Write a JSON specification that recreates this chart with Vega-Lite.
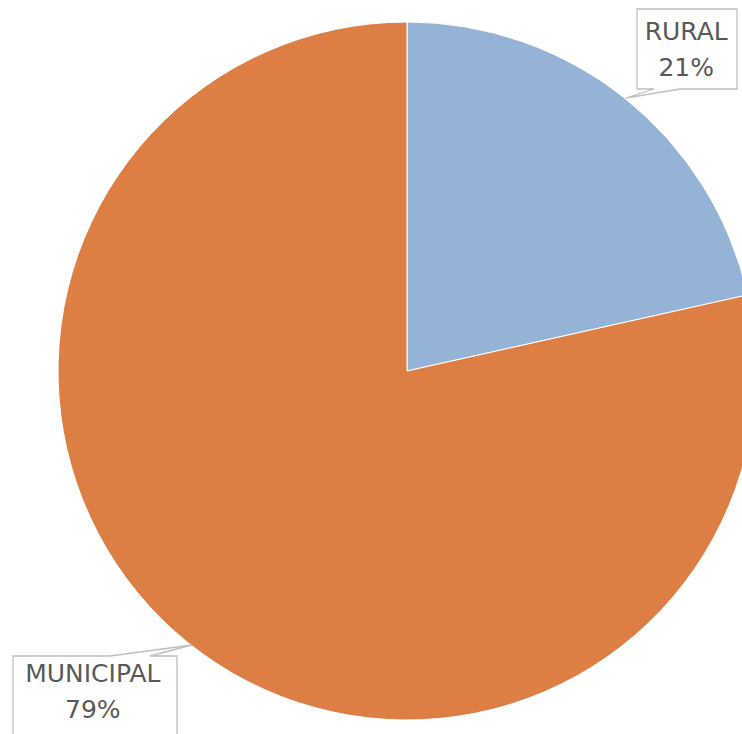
{
  "$schema": "https://vega.github.io/schema/vega-lite/v6.json",
  "width": 670,
  "height": 726,
  "autosize": "none",
  "padding": {"left": 72, "top": 8, "right": 0, "bottom": 0},
  "background": "white",
  "config": {"view": {"stroke": null}},
  "data": {
    "values": [
      {"category": "RURAL", "value": 21.5, "rank": 1, "label": "RURAL\n21%"},
      {"category": "MUNICIPAL", "value": 78.5, "rank": 2, "label": "MUNICIPAL\n79%"}
    ]
  },
  "transform": [
    {"stack": "value", "groupby": [], "sort": [{"field": "rank", "order": "ascending"}], "as": ["v0", "v1"]},
    {"calculate": "(datum.v0 + datum.v1) / 2", "as": "vmid"}
  ],
  "layer": [
    {
      "mark": {"type": "arc", "outerRadius": 349, "stroke": "white", "strokeWidth": 1},
      "encoding": {
        "theta": {"field": "v0", "type": "quantitative", "scale": {"domain": [0, 100]}},
        "theta2": {"field": "v1"},
        "color": {
          "field": "category",
          "type": "nominal",
          "scale": {"domain": ["RURAL", "MUNICIPAL"], "range": ["#95B3D7", "#DD7F45"]},
          "legend": null
        }
      }
    },
    {
      "transform": [{"filter": "datum.category === 'RURAL'"}],
      "mark": {"type": "point", "shape": "M219,-273L247,-282H230V-362H330V-282H273Z", "size": 4, "filled": true, "fill": "white", "stroke": "#BFBFBF", "strokeWidth": 1.3, "opacity": 1}
    },
    {
      "transform": [{"filter": "datum.category === 'MUNICIPAL'"}],
      "mark": {"type": "point", "shape": "M-215,274L-257,285H-230V365H-394V285H-297Z", "size": 4, "filled": true, "fill": "white", "stroke": "#BFBFBF", "strokeWidth": 1.3, "opacity": 1}
    },
    {
      "transform": [{"filter": "datum.category === 'RURAL'"}],
      "mark": {"type": "text", "radius": 349, "dx": 61, "dy": -67, "align": "center", "baseline": "middle", "lineBreak": "\n", "lineHeight": 36, "font": "DejaVu Sans", "fontSize": 25, "fill": "#595959"},
      "encoding": {
        "theta": {"field": "vmid", "type": "quantitative", "scale": {"domain": [0, 100]}},
        "text": {"field": "label"}
      }
    },
    {
      "transform": [{"filter": "datum.category === 'MUNICIPAL'"}],
      "mark": {"type": "text", "radius": 349, "dx": -96, "dy": 31, "align": "center", "baseline": "middle", "lineBreak": "\n", "lineHeight": 36, "font": "DejaVu Sans", "fontSize": 25, "fill": "#595959"},
      "encoding": {
        "theta": {"field": "vmid", "type": "quantitative", "scale": {"domain": [0, 100]}},
        "text": {"field": "label"}
      }
    }
  ]
}
